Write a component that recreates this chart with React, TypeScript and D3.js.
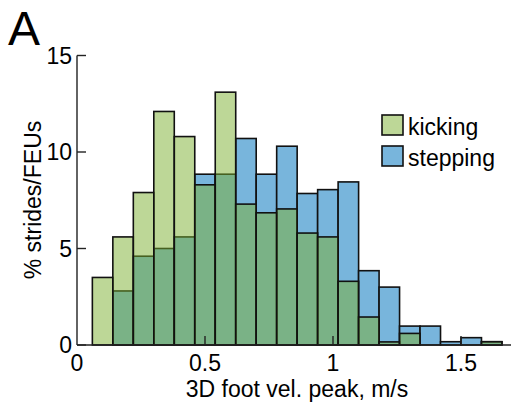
import React from 'react';
import * as d3 from 'd3';

// bin edges: 0.06 .. 1.66, width 0.08
const binStarts = [0.06, 0.14, 0.22, 0.30, 0.38, 0.46, 0.54, 0.62, 0.70, 0.78, 0.86, 0.94, 1.02, 1.10, 1.18, 1.26, 1.34, 1.42, 1.50, 1.58];
const binWidth = 0.08;
const kicking = [3.5, 5.6, 7.9, 12.1, 10.8, 8.3, 13.1, 7.3, 6.85, 7.05, 5.8, 5.6, 3.3, 1.45, 0.16, 0.6, 0, 0, 0, 0.17];
const stepping = [0, 2.8, 4.6, 5.0, 5.6, 8.85, 8.85, 10.7, 8.85, 10.3, 7.85, 8.05, 8.45, 3.85, 3.0, 0.98, 0.98, 0.17, 0.38, 0.17];
const xTicks = [0, 0.5, 1, 1.5];
const yTicks = [0, 5, 10, 15];

const W = 515;
const H = 410;
const font = 'Liberation Sans, Arial, sans-serif';

export default function App() {
  const x = d3.scaleLinear().domain([0, 1]).range([77, 333]);
  const y = d3.scaleLinear().domain([0, 15]).range([345, 55.5]);
  const blue = '#78b5dc';
  const green = 'rgb(123,175,47)';

  const bar = (v: number, i: number, fill: string, op: number, key: string) =>
    v > 0 ? (
      <rect
        key={key}
        x={x(binStarts[i])}
        y={y(v)}
        width={x(binStarts[i] + binWidth) - x(binStarts[i])}
        height={y(0) - y(v)}
        fill={fill}
        fillOpacity={op}
        stroke="#111"
        strokeWidth={1.6}
      />
    ) : null;

  return (
    <svg width={W} height={H} style={{ position: 'absolute', left: 0, top: 0 }} fontFamily={font}>
      <rect width={W} height={H} fill="#fff" />
      <text x={8} y={45} fontSize={48}>A</text>

      {stepping.map((v, i) => bar(v, i, blue, 1, 's' + i))}
      {kicking.map((v, i) => bar(v, i, green, 0.5, 'k' + i))}

      {/* axes */}
      <line x1={77} x2={77} y1={y(15)} y2={y(0)} stroke="#222" strokeWidth={1.4} />
      <line x1={77} x2={511} y1={y(0)} y2={y(0)} stroke="#222" strokeWidth={1.4} />
      {yTicks.map((t) => (
        <g key={'y' + t}>
          <line x1={77} x2={86} y1={y(t)} y2={y(t)} stroke="#222" strokeWidth={1.4} />
          <text x={72} y={y(t) + 8} fontSize={23} textAnchor="end">{t}</text>
        </g>
      ))}
      {xTicks.map((t) => (
        <g key={'x' + t}>
          {t > 0 && <line x1={x(t)} x2={x(t)} y1={y(0)} y2={y(0) - 9} stroke="#222" strokeWidth={1.4} />}
          <text x={x(t)} y={371} fontSize={23} textAnchor="middle">{t}</text>
        </g>
      ))}
      <text x={297} y={397} fontSize={23} textAnchor="middle">3D foot vel. peak, m/s</text>
      <text transform="translate(41,200) rotate(-90)" fontSize={23} textAnchor="middle">% strides/FEUs</text>

      {/* legend */}
      <rect x={382} y={115} width={21} height={20} fill={green} fillOpacity={0.5} stroke="#111" strokeWidth={1.6} />
      <text x={408} y={135} fontSize={23}>kicking</text>
      <rect x={382} y={146} width={21} height={20} fill={blue} stroke="#111" strokeWidth={1.6} />
      <text x={408} y={166} fontSize={23}>stepping</text>
    </svg>
  );
}
